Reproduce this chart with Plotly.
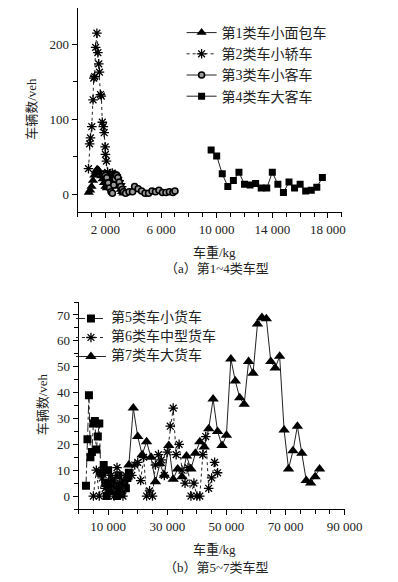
import plotly.graph_objects as go

# ---------- data: panel (a) ----------
s1_x = [800, 900, 1000, 1100, 1200, 1300, 1400, 1500, 1600, 1700, 1800, 1900, 2000, 2100,
        2200, 2300, 2400, 2500, 2600, 2700, 2800, 2900, 3000, 3100, 3200, 3300]
s1_y = [2, 5, 10, 18, 25, 30, 33, 32, 28, 24, 20, 15, 10, 8, 12, 18, 22, 24, 25, 22, 18, 14, 10, 6, 3, 1]

s2_x = [780, 860, 925, 1020, 1110, 1160, 1225, 1295, 1385, 1455, 1520, 1570, 1640, 1705,
        1775, 1845, 1910, 1980, 2000, 2070, 2160, 2300, 2490, 2620, 2740, 2850, 2960, 3070, 3170]
s2_y = [34, 67, 75, 90, 126, 155, 157, 196, 215, 189, 174, 163, 133, 131,
        96, 90, 82, 63, 53, 44, 29, 27, 28, 26, 25, 22, 18, 14, 10]

s3_x = [1900, 2000, 2100, 2200, 2300, 2400, 2500, 2600, 2700, 2800, 2900, 3000, 3100, 3200,
        3300, 3450, 3700, 3950, 4100, 4350, 4600, 4850, 5100, 5350, 5600, 5850, 6100, 6350,
        6600, 6850, 7000]
s3_y = [27, 25, 22, 15, 8, 3, 1, 12, 20, 25, 22, 16, 10, 6, 3, 1, 3, 3, 10, 7, 4, 1, 1, 4,
        3, 5, 2, 2, 3, 2, 4]

s4_x = [9600, 10000, 10400, 10800, 11200, 11600, 12000, 12400, 12800, 13200, 13600, 14000,
        14400, 14800, 15200, 15600, 16000, 16400, 16800, 17200, 17600]
s4_y = [59, 51, 27, 10, 18, 29, 13, 12, 14, 8, 8, 29, 13, 2, 16, 8, 13, 4, 5, 9, 22]

# ---------- data: panel (b) ----------
s5_x = [2500, 3000, 3500, 4000, 4500, 5000, 5500, 6000, 6500, 7000, 7500, 8000, 8500, 9000,
        9500, 10000, 10500, 11000, 11500, 12000, 12500, 13000, 13500, 14000, 14500, 15000,
        15500, 16000, 16500, 17000]
s5_y = [4, 22, 39, 15, 17, 28, 29, 18, 23, 28, 9, 9, 12, 5, 0, 10, 2, 5, 6, 3, 4, 0, 8, 4,
        1, 3, 5, 3, 7, 9]

s6_x = [5000, 6000, 7000, 8000, 9000, 10000, 11000, 12000, 13000, 14000, 15000, 16000, 17000,
        18000, 19000, 20000, 21000, 22000, 23000, 24000, 25000, 26000, 27000, 28000, 29000,
        30000, 31000, 32000, 33000, 34000, 35000, 36000, 37000, 38000, 39000, 40000, 41000,
        42000, 43000, 44000, 45000, 46000, 47000]
s6_y = [0, 10, 0, 7, 3, 5, 8, 0, 11, 5, 0, 8, 8, 8, 12, 13, 6, 15, 0, 2, 0, 12, 16, 14, 8,
        17, 27, 34, 16, 20, 10, 5, 11, 0, 5, 0, 0, 16, 23, 3, 7, 13, 9]

s7_x = [17000, 18500, 20000, 21500, 23000, 24500, 26000, 27500, 29000, 30500, 32000, 33500,
        35000, 36500, 38000, 39500, 41000, 42500, 44000, 45500, 47000, 48500, 50000, 51500,
        53000, 54500, 56000, 57500, 59000, 60500, 62000, 63500, 65000, 66500, 68000, 69500,
        71000, 72500, 74000, 75500, 77000, 78500, 80000, 81500]
s7_y = [12, 34, 23, 16, 21, 15, 5.5, 12.5, 8, 19.5, 6.5, 10.5, 7.5, 15.5, 10.5, 16.5, 21,
        19, 26, 37.5, 25, 19.5, 23.5, 53, 44.5, 38, 35.5, 52, 47.5, 66.5, 69, 68.5, 52, 49.5,
        54, 25.5, 10.5, 17.5, 27, 16.5, 6, 5, 7.5, 10.5]

names_a = ["第1类车小面包车", "第2类车小轿车", "第3类车小客车", "第4类车大客车"]
names_b = ["第5类车小货车", "第6类车中型货车", "第7类车大货车"]

xa_tick_vals = [2000, 6000, 10000, 14000, 18000]
xa_tick_text = ["2 000", "6 000", "10 000", "14 000", "18 000"]
ya_tick_vals = [0, 100, 200]
xb_tick_vals = [10000, 30000, 50000, 70000, 90000]
xb_tick_text = ["10 000", "30 000", "50 000", "70 000", "90 000"]
yb_tick_vals = [0, 10, 20, 30, 40, 50, 60, 70]

FONT = "Times New Roman, Liberation Serif, Noto Sans CJK SC, serif"
LC = "#222222"

# vertical page offset of 8px observed; no horizontal offset
OFFX, OFFY = 0, 8
W, H = 390, 566
def X(px):
    return min(1.0, max(0.0, (px - OFFX) / W))
def Y(py):
    return min(1.0, max(0.0, 1 - (py - OFFY) / H))

fig = go.Figure()

def add(x, y, name, sym, size, dash, xa, ya, leg, fill="black", lw=1.0, mlw=0.0, label=None):
    fig.add_trace(go.Scatter(
        x=x, y=y, name=label if label else name, mode="lines+markers",
        xaxis=xa, yaxis=ya, legend=leg, legendgroup=name,
        line=dict(color=LC, width=lw, dash=dash),
        marker=dict(symbol=sym, size=size, color=fill,
                    line=dict(color="black", width=mlw)),
    ))

def big(t):
    return '<span style="font-size:14px">' + t + '</span>'

add(s1_x, s1_y, names_a[0], "triangle-up", 9, "solid", "x", "y", "legend")
add(s2_x, s2_y, names_a[1], "asterisk-open", 8, "dot", "x", "y", "legend", mlw=1.3)
add(s3_x, s3_y, names_a[2], "circle", 6, "solid", "x", "y", "legend", fill="#9a9a9a", mlw=1.6)
add(s4_x, s4_y, names_a[3], "square", 7, "solid", "x", "y", "legend")

add(s5_x, s5_y, names_b[0], "square", 8, "dashdot", "x2", "y2", "legend2", label=big(names_b[0]))
add(s6_x, s6_y, names_b[1], "asterisk-open", 8, "dot", "x2", "y2", "legend2", mlw=1.3, label=big(names_b[1]))
add(s7_x, s7_y, names_b[2], "triangle-up", 10, "solid", "x2", "y2", "legend2", label=big(names_b[2]))

axis_common = dict(showgrid=False, zeroline=False, showline=True, linecolor="black",
                   linewidth=1, ticks="outside", ticklen=5, tickcolor="black",
                   tickfont=dict(family=FONT, size=13, color="#222"), mirror=False)

fig.update_layout(
    width=W, height=H,
    margin=dict(l=0, r=0, t=0, b=0),
    paper_bgcolor="white", plot_bgcolor="white",
    font=dict(family=FONT, color="#222"),
    xaxis=dict(domain=[X(73), X(350)], anchor="y", range=[0, 19000],
               tickvals=xa_tick_vals, ticktext=xa_tick_text,
               minor=dict(ticks="outside", dtick=1000, tick0=0, ticklen=4, tickcolor="black"),
               **axis_common),
    yaxis=dict(domain=[Y(212), Y(8)], anchor="x", range=[-24, 248.7],
               tickvals=ya_tick_vals,
               minor=dict(ticks="outside", dtick=50, tick0=0, ticklen=4, tickcolor="black"),
               **axis_common),
    xaxis2=dict(domain=[X(74), X(353)], anchor="y2", range=[0, 90000],
                tickvals=xb_tick_vals, ticktext=xb_tick_text,
                minor=dict(ticks="outside", dtick=5000, tick0=0, ticklen=4, tickcolor="black"),
                **axis_common),
    yaxis2=dict(domain=[Y(509), Y(302)], anchor="x2", range=[-5, 75],
                tickvals=yb_tick_vals,
                minor=dict(ticks="outside", dtick=5, tick0=0, ticklen=4, tickcolor="black"),
                **axis_common),
    legend=dict(x=X(182), y=Y(17), xanchor="left", yanchor="top",
                bgcolor="rgba(0,0,0,0)", font=dict(family=FONT, size=14, color="#222"),
                tracegroupgap=0, itemwidth=30),
    legend2=dict(x=X(66), y=Y(304), xanchor="left", yanchor="top",
                 bgcolor="rgba(0,0,0,0)", font=dict(family=FONT, size=10, color="#222"),
                 tracegroupgap=0, itemwidth=30),
    showlegend=True,
)

ann = [
    dict(text="车辆数/veh", x=X(25), y=Y(109), textangle=-90),
    dict(text="车重/kg", x=X(217), y=Y(253)),
    dict(text="（a）第1~4类车型", x=X(219), y=Y(269)),
    dict(text="车辆数/veh", x=X(36), y=Y(404), textangle=-90),
    dict(text="车重/kg", x=X(217), y=Y(549)),
    dict(text="（b）第5~7类车型", x=X(219), y=Y(567)),
]
for a in ann:
    fig.add_annotation(xref="paper", yref="paper", showarrow=False,
                       xanchor="center", yanchor="middle",
                       font=dict(family=FONT, size=13, color="#222"), **a)

fig.write_html("out.html")
